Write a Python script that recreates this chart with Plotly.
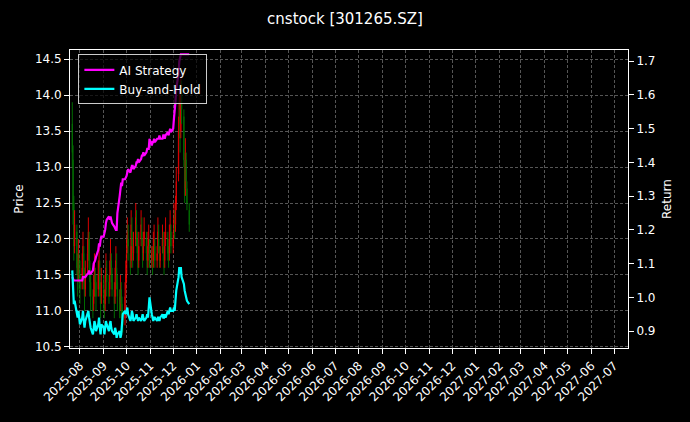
import pandas as pd
import plotly.graph_objects as go

title = "cnstock [301265.SZ]"
open_ = [13.6,13.1,12.5,11.9,12.1,11.7,11.5,11.7,
 11.5,11.4,11.6,11.8,11.5,11.3,11.6,11.8,12.0,11.6,11.4,11.2,11.1,11.3,11.5,11.4,11.3,11.6,11.6,11.3,11.2,
 11.4,11.2,11.1,11.4,11.5,11.4,11.3,11.6,11.7,11.5,11.3,11.2,11.5,11.6,11.4,11.2,11.1,11.3,11.1,10.9,10.9,11.3,
 11.5,11.9,12.0,11.8,11.7,12.1,11.9,11.8,12.0,12.2,12.0,11.7,11.7,12.0,12.1,11.9,11.8,12.0,12.0,11.7,11.7,11.9,11.9,
 11.7,11.8,11.7,11.9,11.9,11.7,11.9,12.0,11.8,11.7,11.9,11.9,11.7,11.7,12.0,12.0,11.8,11.8,12.1,12.1,
 11.9,12.1,12.2,12.2,12.5,12.9,13.6,13.8,13.5,14.1,13.7,13.0,12.7,13.1,12.7,12.4]
high = [13.9,13.3,12.6,12.4,12.2,11.8,12.0,11.8,
 11.7,11.8,12.1,11.9,11.6,11.7,12.0,12.3,12.1,11.7,11.5,11.3,11.5,11.8,11.6,11.5,11.7,11.9,11.7,11.4,11.6,
 11.5,11.3,11.5,11.8,11.7,11.5,11.7,12.0,11.8,11.6,11.4,11.6,11.9,11.8,11.5,11.3,11.5,11.4,11.2,11.0,11.4,11.7,
 12.0,12.3,12.2,11.9,12.4,12.3,12.0,12.1,12.5,12.4,12.1,11.8,12.1,12.4,12.3,12.0,12.1,12.3,12.1,11.8,12.1,12.2,12.0,
 11.9,11.9,12.1,12.2,12.0,11.9,12.3,12.2,11.9,11.9,12.2,12.1,11.8,12.1,12.3,12.1,11.9,12.2,12.4,12.2,
 12.1,12.5,12.4,12.6,13.0,13.7,14.1,13.9,14.3,14.2,13.8,13.1,13.4,13.2,12.8,12.5]
low = [13.0,12.2,11.7,11.8,11.5,11.2,11.4,11.3,
 11.1,11.3,11.5,11.3,11.0,11.2,11.5,11.7,11.5,11.2,11.0,10.9,11.0,11.2,11.2,11.0,11.2,11.5,11.2,10.9,11.1,
 11.0,10.9,11.0,11.3,11.2,11.1,11.2,11.5,11.4,11.2,10.9,11.1,11.4,11.3,11.0,10.9,11.0,10.9,10.8,10.7,10.8,11.2,
 11.4,11.8,11.7,11.5,11.6,11.9,11.6,11.7,11.9,11.9,11.7,11.5,11.6,11.9,11.9,11.6,11.7,11.9,11.7,11.5,11.6,11.8,11.6,
 11.6,11.5,11.6,11.8,11.6,11.6,11.8,11.8,11.6,11.6,11.8,11.7,11.5,11.6,11.9,11.7,11.6,11.7,12.0,11.8,
 11.8,12.0,12.0,12.1,12.4,12.8,13.4,13.2,13.4,13.6,13.0,12.5,12.6,12.7,12.4,12.1]
close = [13.2,12.4,11.9,12.2,11.6,11.4,11.8,11.5,
 11.3,11.6,11.9,11.4,11.2,11.5,11.8,12.1,11.7,11.4,11.2,11.0,11.3,11.6,11.4,11.2,11.5,11.7,11.3,11.1,11.4,
 11.2,11.0,11.3,11.6,11.4,11.2,11.5,11.8,11.6,11.3,11.1,11.4,11.7,11.5,11.2,11.0,11.3,11.1,10.9,10.8,11.2,11.5,
 11.8,12.1,11.9,11.6,12.2,12.0,11.7,11.9,12.3,12.1,11.8,11.6,11.9,12.2,12.0,11.7,11.9,12.1,11.8,11.6,11.9,12.0,11.7,
 11.8,11.6,11.9,12.0,11.7,11.8,12.1,11.9,11.7,11.8,12.0,11.8,11.6,11.9,12.1,11.8,11.7,12.0,12.2,11.9,
 12.0,12.3,12.1,12.4,12.8,13.5,13.9,13.4,14.0,13.8,13.1,12.6,13.2,12.8,12.5,12.2]
bh_return = [1.08,1.02,0.98,0.99,0.95,0.94,0.96,0.94,
 0.92,0.94,0.96,0.93,0.91,0.93,0.95,0.96,0.94,0.92,0.91,0.89,0.91,0.93,0.92,0.90,0.92,0.94,0.91,0.89,0.92,
 0.91,0.89,0.91,0.93,0.92,0.90,0.92,0.93,0.91,0.90,0.89,0.91,0.90,0.88,0.89,0.90,0.88,0.89,0.92,0.95,0.96,0.95,
 0.96,0.97,0.95,0.93,0.94,0.96,0.95,0.93,0.94,0.95,0.94,0.93,0.94,0.93,0.94,0.95,0.94,0.93,0.94,0.95,0.94,0.96,1.00,
 0.95,0.94,0.93,0.94,0.94,0.93,0.94,0.94,0.93,0.94,0.95,0.94,0.94,0.95,0.94,0.96,0.95,0.96,0.97,0.96,
 0.96,0.97,0.96,0.99,1.02,1.06,1.09,1.07,1.09,1.06,1.04,1.02,1.01,1.00,0.99,0.98]
ai_return = [1.06,1.05,1.05,1.05,1.05,1.05,1.05,1.05,
 1.05,1.05,1.06,1.06,1.06,1.06,1.07,1.07,1.08,1.07,1.07,1.08,1.10,1.11,1.11,1.12,1.14,1.16,1.15,1.17,1.18,
 1.18,1.19,1.20,1.22,1.23,1.24,1.23,1.24,1.23,1.22,1.21,1.20,1.20,1.20,1.25,1.30,1.33,1.34,1.33,1.35,1.35,1.36,
 1.36,1.37,1.38,1.37,1.38,1.39,1.39,1.38,1.39,1.40,1.40,1.41,1.40,1.41,1.42,1.42,1.43,1.42,1.43,1.44,1.44,1.44,1.47,
 1.45,1.46,1.46,1.47,1.46,1.47,1.47,1.47,1.48,1.47,1.47,1.48,1.48,1.47,1.48,1.49,1.48,1.49,1.50,1.49,
 1.50,1.53,1.55,1.58,1.62,1.66,1.70,1.71,1.72,1.72,1.72,1.72,1.72,1.72,1.72,1.72]
dates = pd.bdate_range("2025-07-22", periods=len(close))

fig = go.Figure()
fig.add_trace(go.Candlestick(x=dates, open=open_, high=high, low=low, close=close,
    increasing=dict(line=dict(color="red", width=1), fillcolor="red"),
    decreasing=dict(line=dict(color="green", width=1), fillcolor="green"),
    whiskerwidth=0, showlegend=False, opacity=0.85))
fig.add_trace(go.Scatter(x=dates, y=ai_return, name="AI Strategy", yaxis="y2",
    mode="lines", line=dict(color="#ff00ff", width=2.2)))
fig.add_trace(go.Scatter(x=dates, y=bh_return, name="Buy-and-Hold", yaxis="y2",
    mode="lines", line=dict(color="#00ffff", width=2.2)))

grid = dict(showgrid=True, gridcolor="#555", griddash="3px,2px", gridwidth=0.6,
            showline=True, linecolor="white", mirror=True, ticks="outside",
            tickcolor="white", zeroline=False, automargin=False)
fig.update_layout(
    width=690, height=422, paper_bgcolor="black", plot_bgcolor="black",
    font=dict(family="DejaVu Sans", color="white", size=12),
    title=dict(text=title, x=0.5, xanchor="center", y=0.955, yanchor="middle", font=dict(size=15)),
    margin=dict(l=70, r=62, t=50, b=74),
    xaxis=dict(type="date", range=["2025-07-19", "2027-07-19"], dtick="M1",
               tickformat="%Y-%m", tickangle=-45, rangeslider=dict(visible=False), **grid),
    yaxis=dict(range=[10.486, 14.625], title=dict(text="Price", font=dict(size=12), standoff=8),
               dtick=0.5, tickformat=".1f", **grid),
    yaxis2=dict(range=[0.85, 1.733], overlaying="y", side="right", dtick=0.1, showgrid=False,
                tickformat=".1f", automargin=False,
                title=dict(text="Return", font=dict(size=12), standoff=8), ticks="outside",
                tickcolor="white", zeroline=False),
    legend=dict(x=0.015, y=0.985, xanchor="left", yanchor="top", bgcolor="rgba(0,0,0,0.7)",
                bordercolor="#ccc", borderwidth=1, font=dict(size=12)),
)
fig.write_html("out.html", config={"displayModeBar": False},
    post_script="document.body.style.margin='0';document.body.style.background='black';")
